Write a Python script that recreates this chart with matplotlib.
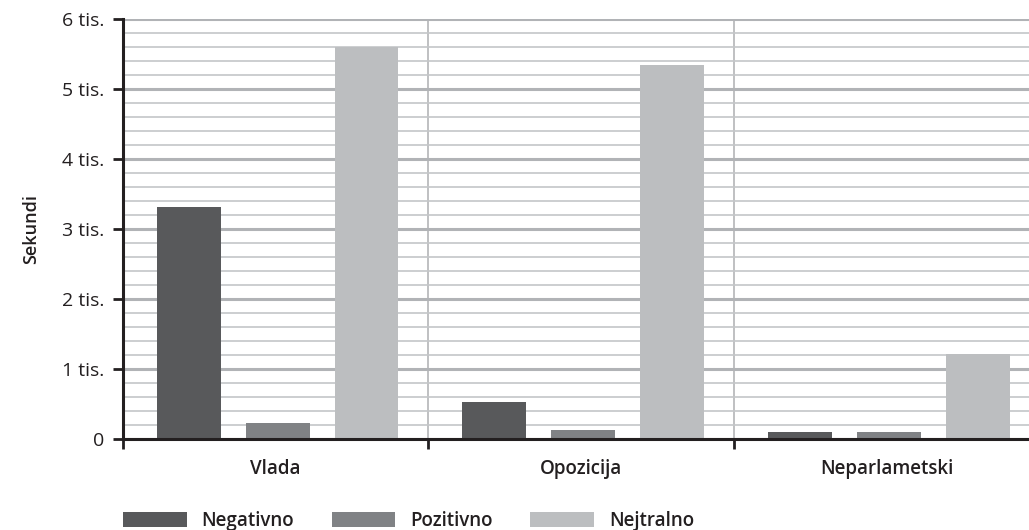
import matplotlib
matplotlib.use("Agg")
import matplotlib.pyplot as plt
import numpy as np

# data
categories = ["Vlada", "Opozicija", "Neparlametski"]
series_names = ["Negativno", "Pozitivno", "Nejtralno"]
negativno = [3310, 520, 90]
pozitivno = [215, 120, 95]
nejtralno = [5600, 5335, 1205]
y_ticks = [0, 1000, 2000, 3000, 4000, 5000, 6000]
y_tick_labels = ["0", "1 tis.", "2 tis.", "3 tis.", "4 tis.", "5 tis.", "6 tis."]

colors = ["#58595b", "#808285", "#bcbec0"]
plt.rcParams["font.family"] = ["Open Sans", "DejaVu Sans"]
ink = "#231f20"

fig = plt.figure(figsize=(10.29, 5.30), dpi=100)
ax = fig.add_axes([0.1193, 0.1726, 0.8907, 0.7921])

x = np.arange(len(categories))
width = 0.209
offsets = [-0.284, 0.007, 0.298]
for vals, name, col, off in zip([negativno, pozitivno, nejtralno], series_names, colors, offsets):
    ax.bar(x + off, vals, width=width, color=col, label=name, zorder=3)

ax.set_xlim(-0.5, len(categories) - 0.5)
ax.set_ylim(0, 6000)

# grid: minor every 200, major every 1000
ax.set_yticks(y_ticks)
ax.set_yticklabels(y_tick_labels)
ax.set_yticks(np.arange(0, 6001, 200), minor=True)
ax.grid(axis="y", which="major", color="#b1b3b6", linewidth=2.2, zorder=0)
ax.grid(axis="y", which="minor", color="#c4c6c8", linewidth=1.2, zorder=0)
ax.tick_params(axis="y", which="minor", length=0)
for b in x[:-1] + 0.5:
    ax.axvline(b, color="#b4b5b7", linewidth=1.2, zorder=1)

# category labels centred, ticks at the boundaries
ax.set_xticks(x)
ax.set_xticklabels(categories, fontsize=13.5, fontweight="semibold", color=ink)
ax.tick_params(axis="x", which="major", length=0, pad=15)
ax.set_xticks(np.arange(-0.5, len(categories), 1.0), minor=True)
ax.tick_params(axis="x", which="minor", length=7, width=2, color=ink, direction="out")

ax.tick_params(axis="y", which="major", length=7, width=2, color=ink,
               labelsize=14, labelcolor=ink, pad=6)

for s in ["top", "right"]:
    ax.spines[s].set_visible(False)
for s in ["left", "bottom"]:
    ax.spines[s].set_linewidth(2.2)
    ax.spines[s].set_color(ink)
    ax.spines[s].set_zorder(4)

ax.set_ylabel("Sekundi", fontsize=13, fontweight="semibold", color=ink, labelpad=16)

leg = fig.legend(loc="lower left", bbox_to_anchor=(0.103, -0.034), ncol=3, frameon=False,
                 fontsize=13.5, handlelength=3.4, handleheight=0.9, handletextpad=0.8,
                 columnspacing=2.0)
for t in leg.get_texts():
    t.set_fontweight("semibold")
    t.set_color(ink)

fig.savefig("out.png", dpi=100)
